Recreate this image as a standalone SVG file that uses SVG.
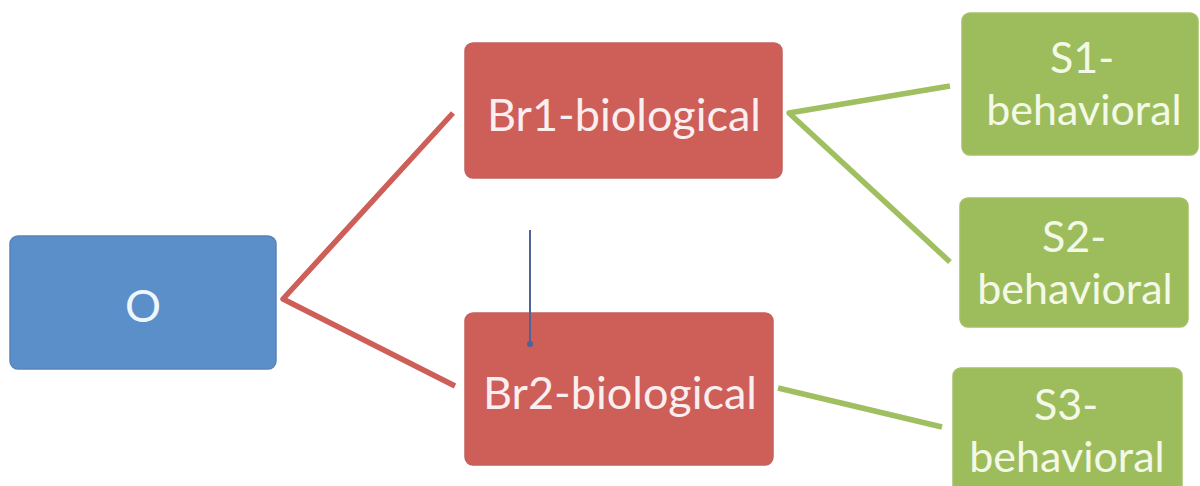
<svg xmlns="http://www.w3.org/2000/svg" width="1200" height="486" viewBox="0 0 1200 486">
  <style>
    .lbl { font-family: Lato, "Open Sans", "Liberation Sans", sans-serif; font-size: 45px; text-anchor: middle; }
    .sm { font-size: 43px; }
    .blue { fill: #5b8fc9; stroke: #5a84b8; stroke-width: 1.5; }
    .red { fill: #cd5e58; stroke: #c2615d; stroke-width: 1.5; }
    .green { fill: #9dbd5c; stroke: #a4c066; stroke-width: 1.5; }
    .t-blue { fill: #eef6ff; }
    .t-red { fill: #fbeeee; }
    .t-green { fill: #f3f9e6; }
    .c-red { stroke: #cd5e58; stroke-width: 5.5; fill: none; stroke-linejoin: round; }
    .c-green { stroke: #a0bf60; stroke-width: 5.5; fill: none; stroke-linejoin: round; }
    .c-blue { stroke: #4d6496; stroke-width: 2; fill: none; }
  </style>
  <rect width="1200" height="486" fill="#ffffff"/>

  <g id="node-o">
    <rect class="blue" x="10" y="236" width="266" height="133" rx="8"/>
    <text class="lbl t-blue" x="143" y="322">O</text>
  </g>

  <g id="node-br1">
    <rect class="red" x="465" y="43" width="317" height="135" rx="8"/>
    <text class="lbl t-red" x="624" y="131">Br1-biological</text>
  </g>

  <g id="node-br2">
    <rect class="red" x="465" y="313" width="308" height="152" rx="8"/>
    <text class="lbl t-red" x="620" y="409">Br2-biological</text>
  </g>

  <g id="node-s1">
    <rect class="green" x="962" y="13" width="236" height="142" rx="8"/>
    <text class="lbl sm t-green" x="1082" y="73">S1-</text>
    <text class="lbl sm t-green" x="1084" y="125">behavioral</text>
  </g>

  <g id="node-s2">
    <rect class="green" x="960" y="198" width="228" height="129" rx="8"/>
    <text class="lbl sm t-green" x="1074" y="252">S2-</text>
    <text class="lbl sm t-green" x="1075" y="304">behavioral</text>
  </g>

  <g id="node-s3">
    <rect class="green" x="953" y="368" width="229" height="130" rx="8"/>
    <text class="lbl sm t-green" x="1066" y="420">S3-</text>
    <text class="lbl sm t-green" x="1067" y="472">behavioral</text>
  </g>

  <!-- connectors, drawn last so the short blue stem sits over Br2 -->
  <g id="connectors">
    <polyline class="c-red" points="453,113 283,299 455,386"/>
    <polyline class="c-green" points="950,86 789,113 950,262"/>
    <line class="c-green" x1="778" y1="388" x2="942" y2="427"/>
    <line class="c-blue" x1="530" y1="230" x2="530" y2="344"/>
    <circle cx="530" cy="344" r="3" fill="#4d6496"/>
  </g>
</svg>
